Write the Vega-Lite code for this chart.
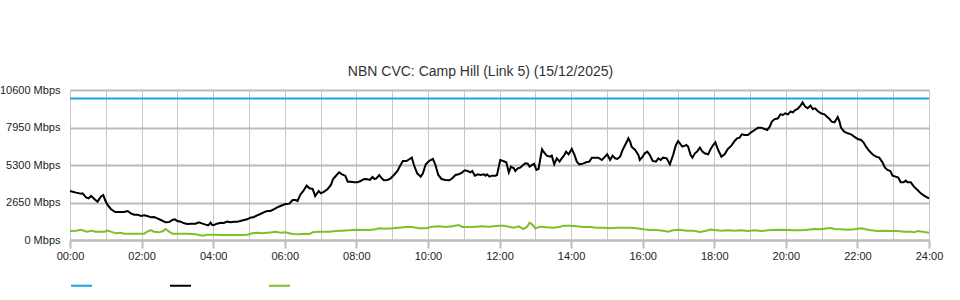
{
  "$schema": "https://vega.github.io/schema/vega-lite/v6.json",
  "width": 859,
  "height": 150,
  "autosize": "none",
  "padding": {"left": 70, "top": 90, "right": 31, "bottom": 60},
  "background": "white",
  "title": {"text": "NBN CVC: Camp Hill (Link 5) (15/12/2025)", "anchor": "middle", "frame": "group", "dx": -19, "dy": 20, "offset": 14, "baseline": "alphabetic", "fontSize": 14, "font": "Liberation Sans", "fontWeight": "normal", "color": "#333333"},
  "config": {"view": {"stroke": null}, "font": "Liberation Sans"},
  "datasets": {
    "cap": [{"h": 0, "v": 10000, "s": "capacity"}, {"h": 24, "v": 10000, "s": "capacity"}],
    "down": [[0,3463],[0.17,3346],[0.31,3275],[0.35,3298],[0.45,3016],[0.52,2945],[0.59,3110],[0.68,2898],[0.77,2709],[0.86,3063],[0.93,3181],[0.98,2827],[1.05,2474],[1.14,2191],[1.26,1979],[1.37,1979],[1.51,1979],[1.61,2050],[1.7,1885],[1.79,1791],[1.89,1791],[1.98,1696],[2.07,1743],[2.16,1696],[2.26,1602],[2.35,1626],[2.44,1531],[2.54,1414],[2.67,1249],[2.77,1272],[2.86,1414],[2.93,1461],[3.0,1343],[3.09,1296],[3.19,1178],[3.28,1131],[3.4,1154],[3.51,1154],[3.6,1249],[3.7,1154],[3.79,1084],[3.86,1037],[3.93,1225],[3.97,1060],[4.02,1060],[4.11,1154],[4.21,1225],[4.3,1202],[4.39,1296],[4.49,1249],[4.58,1296],[4.67,1296],[4.76,1343],[4.86,1414],[4.95,1461],[5.04,1579],[5.14,1626],[5.23,1743],[5.32,1838],[5.41,1955],[5.51,2050],[5.6,2050],[5.69,2168],[5.79,2309],[5.88,2403],[6.0,2521],[6.13,2568],[6.22,2827],[6.3,2827],[6.36,2757],[6.43,3181],[6.52,3463],[6.61,3840],[6.69,3652],[6.78,3605],[6.85,3110],[6.95,3463],[7.01,3298],[7.1,3416],[7.2,3605],[7.29,3887],[7.35,4311],[7.45,4594],[7.52,4783],[7.6,4641],[7.69,4547],[7.76,4123],[7.85,4123],[7.94,4076],[8.03,4076],[8.12,4170],[8.22,4311],[8.31,4288],[8.38,4241],[8.45,4453],[8.51,4311],[8.56,4359],[8.64,4594],[8.71,4359],[8.77,4217],[8.87,4241],[8.96,4359],[9.05,4594],[9.15,4877],[9.21,5183],[9.3,5584],[9.4,5584],[9.49,5725],[9.55,5819],[9.61,5301],[9.7,4712],[9.8,4476],[9.86,4712],[9.94,5348],[10.03,5584],[10.14,5725],[10.21,5301],[10.29,4594],[10.38,4311],[10.49,4241],[10.6,4217],[10.68,4359],[10.77,4594],[10.86,4641],[10.96,4783],[11.03,4924],[11.11,4877],[11.19,4783],[11.24,4877],[11.31,4547],[11.4,4641],[11.47,4594],[11.56,4641],[11.61,4547],[11.65,4641],[11.72,4476],[11.79,4547],[11.89,4547],[11.93,4594],[11.98,5183],[12.02,5654],[12.1,5584],[12.19,5489],[12.26,4783],[12.32,5183],[12.4,5065],[12.44,4877],[12.51,5065],[12.58,5113],[12.66,5301],[12.72,5419],[12.79,5395],[12.84,5183],[12.91,5301],[12.97,5372],[13.03,4948],[13.09,5018],[13.16,6008],[13.19,6408],[13.23,6243],[13.32,5961],[13.42,5890],[13.46,5961],[13.53,5348],[13.6,5772],[13.68,5537],[13.74,5772],[13.81,6008],[13.86,6243],[13.93,6055],[14.02,6432],[14.09,6055],[14.16,5537],[14.23,5348],[14.33,5395],[14.42,5489],[14.51,5537],[14.58,5819],[14.67,5819],[14.76,5819],[14.86,5654],[14.95,5890],[15.01,6055],[15.09,5654],[15.16,5961],[15.23,5772],[15.29,5725],[15.37,5890],[15.44,6361],[15.51,6715],[15.55,6903],[15.6,7186],[15.65,6950],[15.69,6597],[15.79,6361],[15.88,6008],[15.92,5654],[16.0,5890],[16.06,6126],[16.13,6243],[16.2,6008],[16.28,5584],[16.37,5537],[16.44,5772],[16.5,5654],[16.57,5819],[16.67,5772],[16.76,5348],[16.85,6008],[16.93,6715],[16.99,6997],[17.06,6762],[17.11,6597],[17.18,6667],[17.22,6715],[17.27,6597],[17.34,6008],[17.39,5819],[17.46,6126],[17.52,6243],[17.6,6526],[17.67,6243],[17.73,6126],[17.83,6055],[17.9,6432],[17.97,6715],[18.03,6903],[18.11,6361],[18.2,5890],[18.29,6055],[18.38,6432],[18.48,6667],[18.57,6997],[18.64,7186],[18.71,7233],[18.77,7469],[18.85,7421],[18.94,7421],[19.03,7610],[19.13,7775],[19.22,7940],[19.31,7940],[19.41,7845],[19.48,7775],[19.55,8010],[19.61,8364],[19.68,8529],[19.78,8599],[19.85,8882],[19.92,8835],[19.98,8953],[20.06,8882],[20.13,9071],[20.2,9023],[20.26,9188],[20.33,9259],[20.41,9495],[20.47,9730],[20.54,9424],[20.61,9306],[20.69,9495],[20.75,9259],[20.82,9306],[20.89,9118],[20.98,8953],[21.08,8882],[21.15,8717],[21.22,8552],[21.28,8364],[21.36,8317],[21.4,8482],[21.45,8694],[21.5,8364],[21.54,7940],[21.63,7657],[21.73,7539],[21.82,7469],[21.91,7304],[22.01,7139],[22.1,7068],[22.17,6903],[22.24,6597],[22.33,6291],[22.42,6055],[22.52,5890],[22.61,5819],[22.7,5489],[22.77,5113],[22.84,4948],[22.92,4877],[22.98,4547],[23.07,4476],[23.14,4406],[23.21,4076],[23.29,4076],[23.35,4194],[23.4,4076],[23.49,4076],[23.58,3770],[23.68,3534],[23.77,3298],[23.86,3133],[24,2945]],
    "up": [[0,636],[0.17,660],[0.31,730],[0.4,636],[0.49,589],[0.59,660],[0.72,589],[0.86,589],[0.96,589],[1.05,660],[1.14,589],[1.28,471],[1.42,518],[1.51,448],[1.65,448],[1.84,448],[2.07,448],[2.16,589],[2.26,707],[2.35,589],[2.49,542],[2.6,636],[2.67,777],[2.77,589],[2.86,448],[3.05,448],[3.32,448],[3.51,400],[3.7,306],[3.84,377],[4.02,377],[4.25,353],[4.53,353],[4.81,353],[4.95,377],[5.09,471],[5.23,518],[5.37,471],[5.51,518],[5.65,542],[5.74,589],[5.88,518],[6.0,542],[6.22,424],[6.41,400],[6.55,448],[6.69,424],[6.78,542],[6.92,589],[7.06,589],[7.24,589],[7.43,636],[7.61,660],[7.8,683],[7.99,730],[8.17,707],[8.36,707],[8.54,754],[8.64,825],[8.82,801],[9.01,825],[9.19,872],[9.38,919],[9.56,919],[9.75,825],[9.94,825],[10.12,942],[10.31,966],[10.49,919],[10.68,966],[10.86,1060],[10.96,919],[11.14,919],[11.33,942],[11.51,966],[11.7,942],[11.84,966],[11.98,1013],[12.12,1013],[12.26,942],[12.4,872],[12.54,966],[12.67,777],[12.77,942],[12.84,1225],[12.91,1107],[13.0,825],[13.14,942],[13.32,895],[13.51,872],[13.7,942],[13.79,1013],[13.97,1013],[14.16,966],[14.35,919],[14.53,919],[14.72,872],[14.9,872],[15.09,825],[15.27,872],[15.46,872],[15.65,872],[15.83,825],[16.02,754],[16.2,707],[16.39,707],[16.57,660],[16.71,589],[16.85,683],[17.04,730],[17.22,660],[17.41,660],[17.6,565],[17.78,660],[17.9,740],[18.01,707],[18.2,660],[18.38,683],[18.57,660],[18.76,683],[18.94,636],[19.13,683],[19.31,636],[19.5,683],[19.68,707],[19.87,730],[20.06,707],[20.24,683],[20.43,683],[20.61,730],[20.8,777],[20.98,754],[21.17,825],[21.26,848],[21.36,777],[21.54,754],[21.73,730],[21.91,754],[22.1,825],[22.19,777],[22.38,683],[22.56,636],[22.75,660],[22.93,636],[23.12,636],[23.31,589],[23.49,589],[23.58,542],[23.68,636],[23.82,589],[24,518]]
  },
  "layer": [
    {
      "data": {"name": "cap"},
      "mark": {"type": "line", "strokeWidth": 2},
      "encoding": {
        "x": {"field": "h", "type": "quantitative"},
        "y": {"field": "v", "type": "quantitative"},
        "color": {"field": "s", "type": "nominal"}
      }
    },
    {
      "data": {"name": "down"},
      "transform": [{"calculate": "datum[0]", "as": "h"}, {"calculate": "datum[1]", "as": "v"}, {"calculate": "'download'", "as": "s"}],
      "mark": {"type": "line", "strokeWidth": 2},
      "encoding": {
        "x": {"field": "h", "type": "quantitative"},
        "y": {"field": "v", "type": "quantitative"},
        "color": {"field": "s", "type": "nominal"}
      }
    },
    {
      "data": {"name": "up"},
      "transform": [{"calculate": "datum[0]", "as": "h"}, {"calculate": "datum[1]", "as": "v"}, {"calculate": "'upload'", "as": "s"}],
      "mark": {"type": "line", "strokeWidth": 2},
      "encoding": {
        "x": {"field": "h", "type": "quantitative"},
        "y": {"field": "v", "type": "quantitative"},
        "color": {"field": "s", "type": "nominal"}
      }
    }
  ],
  "resolve": {"scale": {"x": "shared", "y": "shared", "color": "shared"}},
  "encoding": {
    "x": {"field": "h", "type": "quantitative",
      "scale": {"domain": [0, 24], "nice": false, "zero": false},
      "axis": {"title": null, "values": [0,1,2,3,4,5,6,7,8,9,10,11,12,13,14,15,16,17,18,19,20,21,22,23,24],
        "labelExpr": "datum.value % 2 == 0 ? (datum.value < 10 ? '0' : '') + datum.value + ':00' : ''",
        "grid": true, "gridColor": "#c8c8c8", "gridWidth": 1,
        "domainColor": "#bbbbbb", "domainWidth": 2,
        "tickColor": "#bbbbbb", "tickWidth": 2, "tickSize": 8,
        "tickOpacity": {"condition": {"test": "datum.value % 2 == 0", "value": 1}, "value": 0},
        "labelFont": "Liberation Sans", "labelFontSize": 11, "labelColor": "#222222", "labelPadding": 2,
        "labelFlush": false, "labelOverlap": false}},
    "y": {"field": "v", "type": "quantitative",
      "scale": {"domain": [0, 10600], "nice": false},
      "axis": {"title": null, "values": [0, 2650, 5300, 7950, 10600],
        "labelExpr": "datum.value + ' Mbps'",
        "grid": true, "gridColor": "#bbbbbb", "gridWidth": 2,
        "ticks": false, "domain": false, "labelPadding": 10,
        "labelFont": "Liberation Sans", "labelFontSize": 11, "labelColor": "#222222"}},
    "color": {"field": "s", "type": "nominal",
      "scale": {"domain": ["capacity", "download", "upload"], "range": ["#1ea0e6", "#000000", "#7cc02a"]},
      "legend": {"orient": "none", "legendX": 0, "legendY": 184, "direction": "horizontal", "title": null,
        "symbolType": "stroke", "symbolSize": 441, "symbolStrokeWidth": 2,
        "labelExpr": "''", "labelOffset": 0, "columnPadding": 70, "symbolOffset": 0}}
  }
}
